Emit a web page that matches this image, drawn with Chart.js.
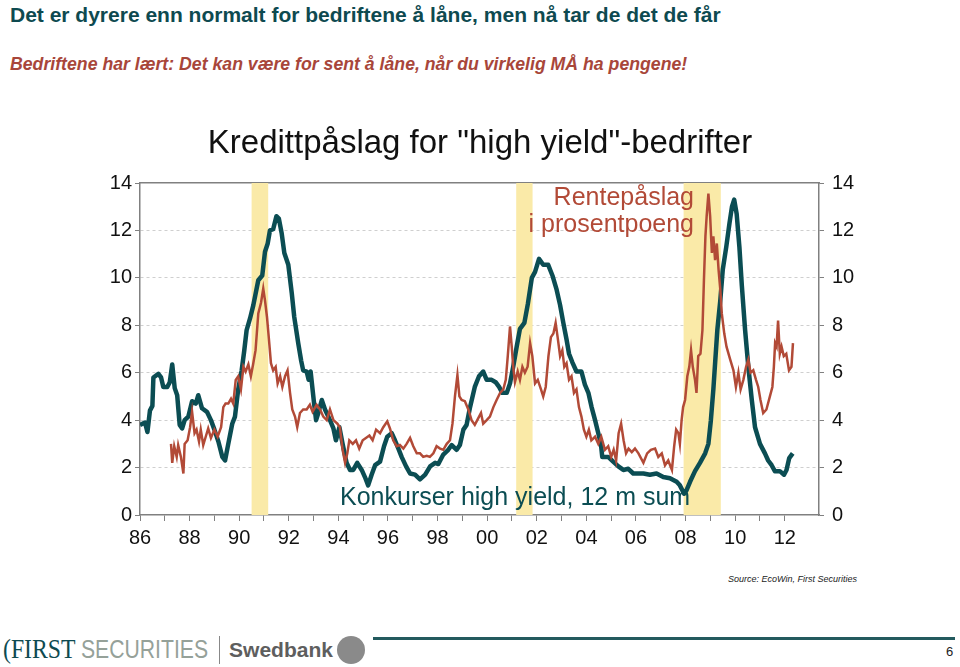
<!DOCTYPE html>
<html>
<head>
<meta charset="utf-8">
<script src="https://cdn.jsdelivr.net/npm/chart.js@4.4.0/dist/chart.umd.min.js"></script>
<style>
  body { margin: 0; width: 960px; height: 667px; background: #fff; position: relative; overflow: hidden; font-family: "Liberation Sans", Arial, sans-serif; }
  #head1 { position: absolute; left: 10px; top: 3px; font-weight: bold; font-size: 21px; color: #0e4a50; white-space: nowrap; }
  #head2 { position: absolute; left: 10px; top: 54px; font-weight: bold; font-style: italic; font-size: 17.7px; color: #a8463a; white-space: nowrap; }
  #chartBox { position: absolute; left: 0; top: 110px; width: 960px; height: 460px; }
  #source { position: absolute; left: 728px; top: 574px; font-size: 9px; font-style: italic; color: #222; }
  .fit { position: absolute; white-space: nowrap; transform-origin: 0 0; }
  #logo1 { left: 3px; top: 633px; font-family: "Liberation Serif", serif; font-size: 28px; color: #0e4a50; }
  #logo1 span { font-family: "Liberation Sans", sans-serif; color: #95a199; font-size: 25px; }
  #sep { position: absolute; left: 219px; top: 636px; width: 1px; height: 28px; background: #888; }
  #logo2 { left: 229px; top: 638px; font-weight: bold; font-size: 21px; color: #5e5e5e; }
  #coin { position: absolute; left: 337px; top: 636px; width: 28px; height: 28px; border-radius: 50%; background: #8a8a8a; }
  #rule { position: absolute; left: 373px; top: 637px; width: 582px; height: 3px; background: #235a5e; }
  #page { position: absolute; left: 946px; top: 644px; font-size: 13px; color: #222; }
</style>
</head>
<body>
<div id="head1">Det er dyrere enn normalt for bedriftene å låne, men nå tar de det de får</div>
<div id="head2">Bedriftene har lært: Det kan være for sent å låne, når du virkelig MÅ ha pengene!</div>
<div id="chartBox"><canvas id="chart" width="960" height="460"></canvas></div>
<div id="source">Source: EcoWin, First Securities</div>
<div id="logo1" class="fit" data-w="205">(FIRST <span>SECURITIES</span></div>
<div id="sep"></div>
<div id="logo2" class="fit" data-w="104">Swedbank</div>
<div id="coin"></div>
<div id="rule"></div>
<div id="page">6</div>
<script>
// ================= DATA =================
const yTicks = [0, 2, 4, 6, 8, 10, 12, 14];

// recession bands (start / end, decimal years)
const bandStart = [1990.5, 2001.17, 2007.92];
const bandEnd = [1991.17, 2001.83, 2009.42];

// Konkurser high yield, 12 m sum
const bankYears = [1986.0, 1986.2, 1986.3, 1986.4, 1986.5, 1986.54, 1986.74, 1986.85, 1986.94, 1987.1,
  1987.2, 1987.3, 1987.4, 1987.5, 1987.6, 1987.7, 1987.8, 1987.95, 1988.1, 1988.25,
  1988.35, 1988.5, 1988.7, 1988.86, 1989.0, 1989.16, 1989.32, 1989.43, 1989.56, 1989.72,
  1989.83, 1989.96, 1990.1, 1990.2, 1990.3, 1990.44, 1990.57, 1990.77, 1990.93, 1991.04,
  1991.15, 1991.24, 1991.37, 1991.5, 1991.6, 1991.71, 1991.82, 1991.98, 1992.12, 1992.22,
  1992.38, 1992.5, 1992.58, 1992.72, 1992.8, 1992.88, 1993.02, 1993.1, 1993.19, 1993.33,
  1993.46, 1993.66, 1993.8, 1993.9, 1994.04, 1994.17, 1994.33, 1994.47, 1994.6, 1994.76,
  1994.94, 1995.07, 1995.2, 1995.34, 1995.48, 1995.68, 1995.84, 1995.97, 1996.15, 1996.28,
  1996.42, 1996.55, 1996.73, 1996.89, 1997.09, 1997.29, 1997.5, 1997.7, 1997.9, 1998.03,
  1998.23, 1998.43, 1998.57, 1998.77, 1998.9, 1999.04, 1999.17, 1999.3, 1999.5, 1999.67,
  1999.84, 1999.98, 2000.18, 2000.34, 2000.48, 2000.61, 2000.79, 2000.92, 2001.05, 2001.19,
  2001.32, 2001.5, 2001.64, 2001.8, 2001.93, 2002.09, 2002.26, 2002.46, 2002.63, 2002.8,
  2002.94, 2003.07, 2003.2, 2003.3, 2003.43, 2003.6, 2003.8, 2003.94, 2004.08, 2004.21,
  2004.35, 2004.48, 2004.59, 2004.64, 2004.88, 2005.08, 2005.29, 2005.49, 2005.69, 2005.89,
  2006.03, 2006.3, 2006.56, 2006.83, 2007.1, 2007.37, 2007.64, 2007.77, 2007.94, 2008.04,
  2008.18, 2008.38, 2008.58, 2008.79, 2008.92, 2009.02, 2009.12, 2009.2, 2009.28, 2009.4,
  2009.5, 2009.64, 2009.77, 2009.87, 2009.96, 2010.06, 2010.17, 2010.27, 2010.4, 2010.53,
  2010.67, 2010.8, 2011.0, 2011.2, 2011.33, 2011.47, 2011.6, 2011.8, 2011.97, 2012.07,
  2012.18, 2012.32];
const bankValues = [3.8, 3.9, 3.5, 4.4, 4.6, 5.8, 5.95, 5.8, 5.4, 5.4,
  5.6, 6.35, 5.35, 5.05, 3.8, 3.65, 4.0, 4.15, 4.8, 4.7,
  5.05, 4.5, 4.35, 4.0, 3.6, 3.1, 2.45, 2.3, 3.0, 3.85,
  4.15, 5.3, 6.1, 6.9, 7.8, 8.3, 8.85, 9.9, 10.1, 11.1,
  11.45, 12.0, 12.05, 12.6, 12.5, 11.9, 11.05, 10.55, 9.35, 8.35,
  7.25, 6.5, 6.1, 6.05, 5.7, 6.05, 4.7, 4.0, 4.3, 4.85,
  4.45, 4.0, 3.65, 3.15, 3.7, 3.0, 2.2, 1.9, 1.9, 2.2,
  1.9, 1.6, 1.25, 1.7, 2.1, 2.25, 2.9, 3.3, 3.45, 3.15,
  2.8, 2.45, 2.05, 1.75, 1.7, 1.5, 1.7, 2.05, 2.2, 2.15,
  2.55, 2.75, 2.95, 2.75, 2.95, 3.6, 3.8, 4.5, 5.4, 5.85,
  6.05, 5.7, 5.7, 5.6, 5.4, 5.15, 5.15, 5.55, 6.25, 7.1,
  7.85, 8.1, 8.9, 10.0, 10.25, 10.8, 10.55, 10.55, 10.1, 9.5,
  8.85, 8.1, 7.4, 6.8, 6.45, 6.05, 6.05, 5.5, 5.15, 4.55,
  4.0, 3.45, 2.95, 2.45, 2.45, 2.25, 2.05, 1.9, 1.95, 1.75,
  1.75, 1.75, 1.7, 1.75, 1.6, 1.55, 1.4, 1.25, 0.9, 1.05,
  1.4, 1.85, 2.2, 2.6, 3.0, 4.0, 5.3, 6.55, 7.8, 9.05,
  10.35, 11.3, 12.3, 13.0, 13.3, 12.7, 11.3, 9.65, 7.8, 6.25,
  4.85, 3.7, 3.0, 2.6, 2.3, 2.1, 1.85, 1.85, 1.7, 1.9,
  2.4, 2.6];

// Rentepåslag i prosentpoeng
const spreadYears = [1987.25, 1987.3, 1987.38, 1987.48, 1987.54, 1987.65, 1987.75, 1987.8, 1987.92, 1988.02,
  1988.1, 1988.2, 1988.28, 1988.38, 1988.45, 1988.55, 1988.65, 1988.75, 1988.86, 1989.0,
  1989.13, 1989.27, 1989.36, 1989.45, 1989.56, 1989.67, 1989.76, 1989.86, 1989.96, 1990.07,
  1990.17, 1990.26, 1990.37, 1990.47, 1990.56, 1990.66, 1990.77, 1990.88, 1990.97, 1991.04,
  1991.12, 1991.2, 1991.28, 1991.37, 1991.47, 1991.55, 1991.65, 1991.74, 1991.85, 1991.95,
  1992.05, 1992.14, 1992.25, 1992.34, 1992.45, 1992.58, 1992.72, 1992.85, 1992.96, 1993.12,
  1993.26, 1993.39, 1993.53, 1993.66, 1993.8, 1993.96, 1994.06, 1994.17, 1994.27, 1994.36,
  1994.44, 1994.58, 1994.71, 1994.84, 1994.98, 1995.11, 1995.25, 1995.38, 1995.52, 1995.68,
  1995.81, 1995.97, 1996.08, 1996.21, 1996.35, 1996.48, 1996.62, 1996.75, 1996.89, 1997.02,
  1997.16, 1997.29, 1997.42, 1997.56, 1997.69, 1997.83, 1997.96, 1998.1, 1998.23, 1998.37,
  1998.5, 1998.6, 1998.7, 1998.8, 1998.88, 1998.97, 1999.1, 1999.24, 1999.37, 1999.5,
  1999.6, 1999.75, 1999.84, 1999.98, 2000.11, 2000.25, 2000.38, 2000.52, 2000.65, 2000.75,
  2000.83, 2000.92, 2000.99, 2001.05, 2001.12, 2001.23, 2001.32, 2001.42, 2001.52, 2001.63,
  2001.73, 2001.82, 2001.93, 2002.04, 2002.17, 2002.26, 2002.36, 2002.47, 2002.57, 2002.67,
  2002.76, 2002.84, 2002.94, 2003.03, 2003.11, 2003.2, 2003.3, 2003.4, 2003.5, 2003.6,
  2003.7, 2003.8, 2003.9, 2004.0, 2004.1, 2004.2, 2004.35, 2004.48, 2004.6, 2004.75,
  2004.88, 2005.0, 2005.1, 2005.2, 2005.3, 2005.4, 2005.5, 2005.6, 2005.7, 2005.83,
  2005.96, 2006.1, 2006.3, 2006.45, 2006.6, 2006.77, 2006.9, 2007.04, 2007.17, 2007.3,
  2007.45, 2007.54, 2007.62, 2007.71, 2007.77, 2007.84, 2007.9, 2007.98, 2008.07, 2008.15,
  2008.22, 2008.29, 2008.38, 2008.44, 2008.51, 2008.6, 2008.68, 2008.74, 2008.8, 2008.85,
  2008.92, 2008.99, 2009.06, 2009.12, 2009.19, 2009.26, 2009.33, 2009.4, 2009.46, 2009.56,
  2009.65, 2009.8, 2009.93, 2010.03, 2010.13, 2010.22, 2010.33, 2010.44, 2010.53, 2010.62,
  2010.73, 2010.84, 2010.93, 2011.02, 2011.13, 2011.26, 2011.4, 2011.5, 2011.56, 2011.61,
  2011.67, 2011.73, 2011.8, 2011.87, 2011.96, 2012.06, 2012.17, 2012.27, 2012.33];
const spreadValues = [3.0, 2.2, 2.9, 2.45, 2.95, 2.45, 1.75, 3.0, 3.15, 3.7,
  4.35, 3.45, 3.6, 3.1, 3.6, 2.95, 3.3, 3.65, 3.25, 3.6,
  3.3, 3.7, 4.55, 4.7, 4.7, 4.9, 4.7, 5.7, 5.85, 5.3,
  6.25, 6.05, 6.35, 5.85, 6.35, 6.95, 8.5, 8.95, 9.55, 9.05,
  8.35, 7.4, 6.4, 6.1, 6.25, 5.55, 5.85, 5.4, 5.85, 6.1,
  5.15, 4.45, 4.15, 3.7, 4.3, 4.45, 4.45, 4.65, 4.35, 4.65,
  4.45, 4.15, 4.0, 4.45, 4.0, 3.85, 3.7, 2.75, 2.2, 2.6,
  3.15, 3.0, 3.15, 2.8, 3.15, 3.25, 3.35, 3.15, 3.6, 3.45,
  3.7, 3.95, 3.65, 3.15, 2.9, 2.95, 2.8, 3.0, 3.25, 2.9,
  2.6, 2.6, 2.45, 2.5, 2.45, 2.6, 2.9, 2.8, 2.75, 3.0,
  3.15, 3.85, 5.0, 5.9, 5.0, 4.85, 4.8, 4.45, 4.0, 3.8,
  4.0, 4.3, 3.85, 4.0, 4.15, 4.55, 4.85, 5.15, 5.3, 5.7,
  6.7, 7.95, 7.1, 6.25, 5.6, 6.05, 5.7, 6.25, 6.0, 6.25,
  7.25, 6.7, 5.55, 5.7, 5.3, 5.0, 5.4, 6.7, 7.5, 7.65,
  8.1, 7.5, 6.7, 6.95, 6.25, 6.4, 5.7, 5.85, 5.15, 5.3,
  4.55, 4.15, 3.6, 3.3, 3.6, 3.15, 3.3, 3.0, 3.3, 2.75,
  2.9, 2.45, 2.75, 2.3, 3.45, 3.85, 3.15, 2.6, 2.8, 2.65,
  2.8, 2.6, 2.2, 2.6, 2.75, 2.8, 2.45, 2.6, 2.1, 2.3,
  1.9, 2.9, 3.6, 3.45, 3.0, 4.0, 4.55, 4.85, 5.85, 6.25,
  6.95, 6.25, 5.7, 5.15, 6.7, 6.8, 7.8, 9.9, 11.75, 12.6,
  13.55, 12.6, 11.05, 11.75, 10.75, 11.45, 10.35, 9.5, 8.5, 7.65,
  7.1, 6.55, 6.1, 5.4, 6.0, 5.3, 5.7, 6.25, 6.55, 6.0,
  6.1, 5.7, 5.4, 4.85, 4.3, 4.45, 5.0, 5.4, 6.25, 7.25,
  7.1, 8.2, 6.8, 7.1, 6.7, 6.8, 6.1, 6.25, 7.25];

const GREEN = "#0b4d53";
const RED = "#b24a37";
const BAND = "#faeaa8";
const FONT = '"Liberation Sans", Arial, sans-serif';

// squeeze logo texts to the width they have in the original footer
document.querySelectorAll(".fit").forEach(el => {
  const w = el.getBoundingClientRect().width;
  el.style.transform = `scaleX(${Number(el.dataset.w) / w})`;
});

// ================= PLUGINS =================
const recessionBands = {
  id: "recessionBands",
  beforeDatasetsDraw(chart) {
    const { ctx, chartArea, scales } = chart;
    ctx.save();
    ctx.fillStyle = BAND;
    bandStart.forEach((s, i) => {
      const x1 = scales.x.getPixelForValue(s);
      const x2 = scales.x.getPixelForValue(bandEnd[i]);
      ctx.fillRect(x1, chartArea.top, x2 - x1, chartArea.bottom - chartArea.top);
    });
    ctx.restore();
  }
};

const chartTexts = {
  id: "chartTexts",
  afterDatasetsDraw(chart) {
    const ctx = chart.ctx;
    ctx.save();
    ctx.textBaseline = "middle";
    ctx.font = "33px " + FONT;
    ctx.fillStyle = "#111";
    ctx.textAlign = "center";
    ctx.fillText('Kredittpåslag for "high yield"-bedrifter', 480, 34);
    ctx.font = "25px " + FONT;
    ctx.fillStyle = RED;
    ctx.textAlign = "right";
    ctx.fillText("Rentepåslag", 694, 88);
    ctx.fillText("i prosentpoeng", 694, 115);
    ctx.fillStyle = GREEN;
    ctx.textAlign = "left";
    ctx.fillText("Konkurser high yield, 12 m sum", 340, 388);
    ctx.restore();
  }
};

// ================= CHART =================
const toPoints = (xs, ys) => xs.map((x, i) => ({ x: x, y: ys[i] }));

new Chart(document.getElementById("chart"), {
  type: "line",
  data: {
    datasets: [
      {
        label: "Rentepåslag i prosentpoeng",
        data: toPoints(spreadYears, spreadValues),
        borderColor: RED,
        borderWidth: 2.5,
        pointRadius: 0,
        tension: 0,
        order: 0
      },
      {
        label: "Konkurser high yield, 12 m sum",
        data: toPoints(bankYears, bankValues),
        borderColor: GREEN,
        borderWidth: 4.5,
        pointRadius: 0,
        tension: 0,
        borderJoinStyle: "round",
        order: 1
      }
    ]
  },
  options: {
    responsive: false,
    animation: false,
    layout: { padding: { left: 0, right: 0, top: 73, bottom: 15 } },
    plugins: {
      legend: { display: false },
      tooltip: { enabled: false },
      title: { display: false }
    },
    scales: {
      x: {
        type: "linear",
        min: 1986,
        max: 2013.38,
        afterBuildTicks: (axis) => {
          axis.ticks = axis.ticks.filter(t => Number.isInteger(t.value));
        },
        ticks: {
          stepSize: 1,
          autoSkip: false,
          maxRotation: 0,
          padding: 5,
          color: "#111",
          font: { family: FONT, size: 20 },
          callback: (v) => (v % 2 === 0) ? String(v % 100).padStart(2, "0") : ""
        },
        grid: { drawOnChartArea: false, drawTicks: true, tickLength: 6, tickColor: "#808080" },
        border: { color: "#808080", width: 1.5 },
        afterFit: (axis) => { axis.height = 40; }
      },
      xTop: {
        type: "linear",
        position: "top",
        min: 1986,
        max: 2013.38,
        ticks: { display: false },
        grid: { display: false, drawTicks: false },
        border: { display: true, color: "#808080", width: 1.5 },
        afterFit: (axis) => { axis.height = 0; }
      },
      y: {
        position: "left",
        min: 0,
        max: 14,
        afterBuildTicks: (axis) => { axis.ticks = yTicks.map(v => ({ value: v })); },
        ticks: { padding: 3, color: "#111", font: { family: FONT, size: 20 } },
        grid: {
          drawTicks: true,
          tickLength: 5,
          tickColor: "#808080",
          color: (c) => (c.tick && (c.tick.value === 0 || c.tick.value === 14)) ? "rgba(0,0,0,0)" : "#cfcfcf"
        },
        border: { color: "#808080", width: 1.5, dash: [3, 3] },
        afterFit: (axis) => { axis.width = 140; }
      },
      y2: {
        position: "right",
        min: 0,
        max: 14,
        afterBuildTicks: (axis) => { axis.ticks = yTicks.map(v => ({ value: v })); },
        ticks: { padding: 8, color: "#111", font: { family: FONT, size: 20 } },
        grid: { drawOnChartArea: false, drawTicks: true, tickLength: 5, tickColor: "#808080" },
        border: { color: "#808080", width: 1.5 },
        afterFit: (axis) => { axis.width = 141; }
      }
    }
  },
  plugins: [recessionBands, chartTexts]
});
</script>
</body>
</html>
